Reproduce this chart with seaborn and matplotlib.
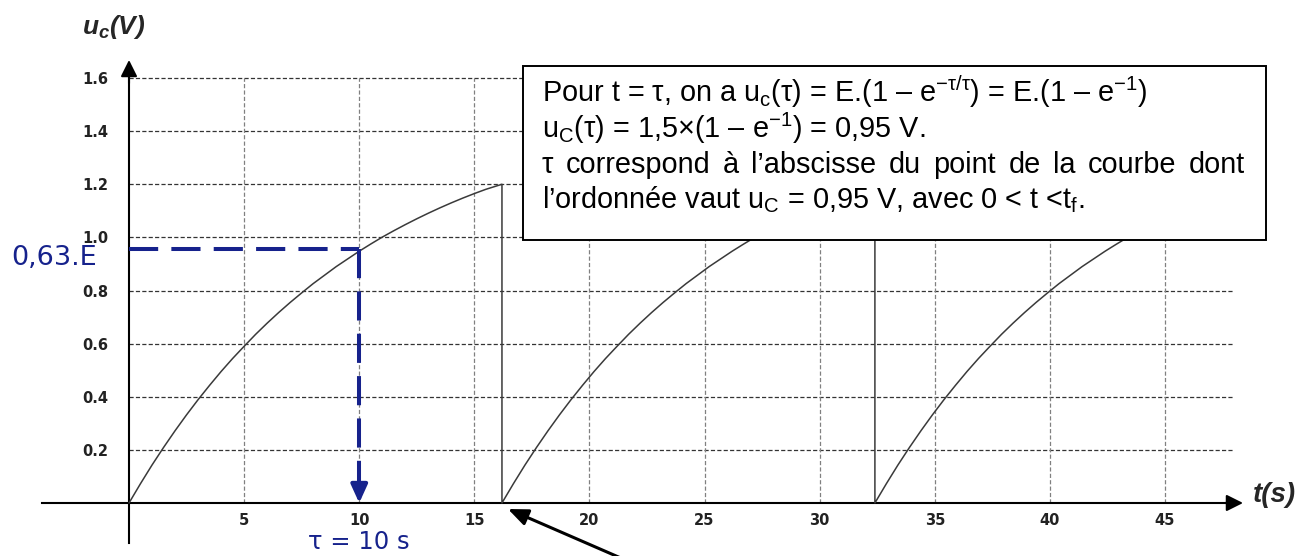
import numpy as np
import pandas as pd
import matplotlib
matplotlib.use("Agg")
import matplotlib.pyplot as plt
import seaborn as sns
from matplotlib.patches import Rectangle

sns.set_style("white")
plt.rcParams['font.family'] = ['Liberation Sans', 'DejaVu Sans']
plt.rcParams['mathtext.fontset'] = 'custom'
plt.rcParams['mathtext.rm'] = 'Liberation Sans'
plt.rcParams['mathtext.it'] = 'Liberation Sans:italic:bold'
plt.rcParams['mathtext.bf'] = 'Liberation Sans:bold'
plt.rcParams['lines.scale_dashes'] = False

# one charge of the capacitor (time since start, voltage)
charge_dt = [0, 0.5, 1, 1.5, 2, 2.5, 3, 3.5, 4, 4.5, 5, 5.5, 6, 6.5, 7, 7.5, 8,
             8.5, 9, 9.5, 10, 10.5, 11, 11.5, 12, 12.5, 13, 13.5, 14, 14.5,
             15, 15.5, 16.2]
charge_u = [0.000, 0.073, 0.143, 0.209, 0.272, 0.332, 0.389, 0.443, 0.495,
            0.544, 0.590, 0.635, 0.677, 0.717, 0.755, 0.791, 0.826, 0.858,
            0.890, 0.919, 0.948, 0.975, 1.001, 1.025, 1.048, 1.070, 1.091,
            1.111, 1.130, 1.148, 1.165, 1.181, 1.200]
segment_start = [0.0, 16.2, 32.4]

x_ticks = [5, 10, 15, 20, 25, 30, 35, 40, 45]
y_ticks = [0.2, 0.4, 0.6, 0.8, 1.0, 1.2, 1.4, 1.6]
y_tick_labels = ["0.2", "0.4", "0.6", "0.8", "1.0", "1.2", "1.4", "1.6"]

tau = 10
u_tau = 0.955

blue = "#16228c"

rows = []
for t0 in segment_start:
    for dt, u in zip(charge_dt, charge_u):
        rows.append((t0 + dt, u))
df = pd.DataFrame(rows, columns=["t", "u"])

W, H = 1313, 556
fig = plt.figure(figsize=(W / 100, H / 100), dpi=100)
ax = fig.add_axes([0, 0, 1, 1])
ax.set_xlim(-5.604, 51.43)
ax.set_ylim(-0.1996, 1.8938)

# grid (dashed, only inside the quadrant)
ax.hlines(y_ticks, 0, 48, colors="#333333", lw=0.9, linestyles=(0, (3, 1.6)), zorder=1)
ax.vlines(x_ticks, 0, 1.6, colors="#808080", lw=0.9, linestyles=(0, (3, 1.6)), zorder=1)

sns.lineplot(data=df, x="t", y="u", sort=False, estimator=None,
             color="#3a3a3a", lw=1.1, ax=ax, zorder=3)

# axes through origin
for s in ["top", "right"]:
    ax.spines[s].set_visible(False)
ax.spines["left"].set_position(("data", 0))
ax.spines["bottom"].set_position(("data", 0))
ax.spines["left"].set_bounds(-0.15, 1.62)
ax.spines["bottom"].set_bounds(-3.8, 48.0)
for s in ["left", "bottom"]:
    ax.spines[s].set_linewidth(1.5)
    ax.spines[s].set_color("black")

arrow_kw = dict(arrowstyle="-|>,head_length=1.0,head_width=0.5", color="black",
                lw=1.5, shrinkA=0, shrinkB=0)
ax.annotate("", xy=(0, 1.668), xytext=(0, 1.58), arrowprops=arrow_kw)
ax.annotate("", xy=(48.39, 0), xytext=(47.6, 0), arrowprops=arrow_kw)

ax.set_xticks(x_ticks)
ax.set_xticklabels([str(v) for v in x_ticks])
ax.set_yticks(y_ticks)
ax.set_yticklabels(y_tick_labels)
ax.tick_params(axis="y", length=0, pad=15)
ax.tick_params(axis="x", length=0, pad=7)
for lab in ax.get_xticklabels() + ax.get_yticklabels():
    lab.set_fontfamily("DejaVu Sans")
    lab.set_fontweight("bold")
    lab.set_fontsize(10.5)
    lab.set_color("#222222")
ax.set_xlabel("")
ax.set_ylabel("")

# axis names
ax.text(-2.04, 1.792, r"$u_c$(V)", fontsize=19, fontweight="bold", style="italic",
        ha="left", va="center")
ax.text(48.83, 0.03, "t(s)", fontsize=20, fontweight="bold", style="italic",
        ha="left", va="center")

# tau construction in blue
ax.plot([0, tau], [u_tau, u_tau], color=blue, lw=2.9, dashes=(21, 9.5), zorder=4)
ax.plot([tau, tau], [u_tau, 0.06], color=blue, lw=2.9, dashes=(21, 9.5), zorder=4)
ax.annotate("", xy=(tau, 0), xytext=(tau, 0.07),
            arrowprops=dict(arrowstyle="-|>,head_length=1.1,head_width=0.5",
                            color=blue, lw=2.9, shrinkA=0, shrinkB=0), zorder=4)
ax.text(-1.39, 0.922, "0,63.E", color=blue, fontsize=19.5, family="DejaVu Sans",
        ha="right", va="center")
ax.text(tau, -0.147, "τ = 10 s", color=blue, fontsize=17.5, family="DejaVu Sans",
        ha="center", va="center")

# pointer at the start of the second charge
ax.annotate("", xy=(16.46, -0.0226), xytext=(22.5, -0.25), annotation_clip=False,
            arrowprops=dict(arrowstyle="-|>,head_length=1.2,head_width=0.5",
                            color="black", lw=2.2, shrinkA=0, shrinkB=0))

# text box
box = Rectangle((523 / W, 1 - 240 / H), (1266 - 523) / W, (240 - 66) / H,
                transform=fig.transFigure, facecolor="white", edgecolor="black",
                lw=1.4, zorder=5)
fig.patches.append(box)
lines = [
    r"Pour t = τ, on a u$_\mathrm{c}$(τ) = E.(1 – e$^{\mathrm{-τ/τ}}$) = E.(1 – e$^{\mathrm{-1}}$)",
    r"u$_\mathrm{C}$(τ) = 1,5×(1 – e$^{\mathrm{-1}}$) = 0,95 V.",
    r"τ correspond à l’abscisse du point de la courbe dont",
    r"l’ordonnée vaut u$_\mathrm{C}$ = 0,95 V, avec 0 < t <t$_\mathrm{f}$.",
]
baselines = [102, 138, 173, 208]
justify = [False, False, True, False]
fs_box = 20.8
x_left, x_right = 542, 1245
renderer = fig.canvas.get_renderer()
for txt, yb, just in zip(lines, baselines, justify):
    y = 1 - yb / H
    if not just:
        fig.text(x_left / W, y, txt, fontsize=fs_box, ha="left", va="baseline",
                 zorder=6, color="black")
        continue
    words = txt.split(" ")
    arts = [fig.text(0, y, w, fontsize=fs_box, ha="left", va="baseline",
                     zorder=6, color="black") for w in words]
    widths = [a.get_window_extent(renderer).width for a in arts]
    gap = (x_right - x_left - sum(widths)) / (len(words) - 1)
    x = x_left
    for a, w in zip(arts, widths):
        a.set_x(x / W)
        x += w + gap

fig.savefig("out.png", dpi=100)
